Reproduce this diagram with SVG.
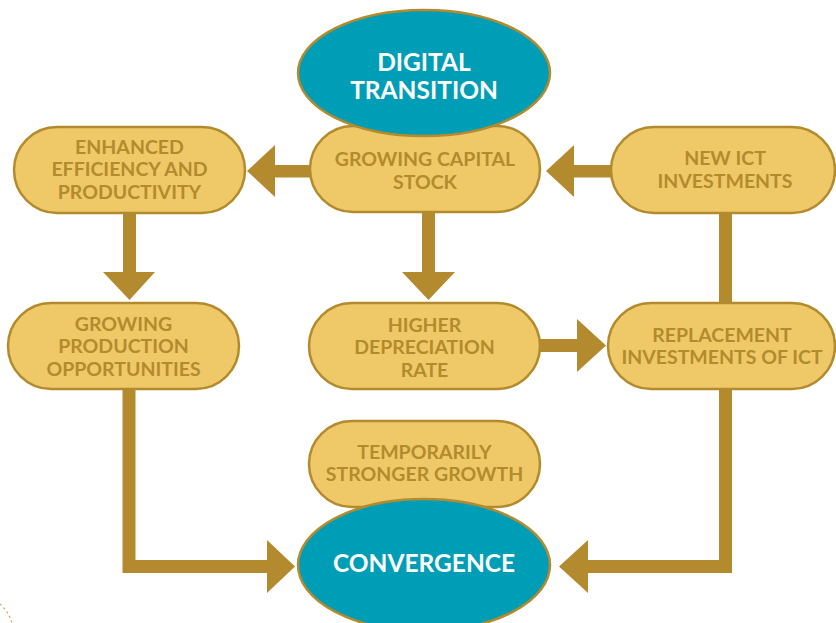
<svg xmlns="http://www.w3.org/2000/svg" width="836" height="623" viewBox="0 0 836 623">
<style>
.box{fill:#EFC967;stroke:#B38B2E;stroke-width:2.5}
.ell{fill:#009EB6;stroke:#B38B2E;stroke-width:2.5}
.bt{font-family:Lato,"Open Sans","Liberation Sans",sans-serif;font-weight:700;font-size:19.5px;fill:#B38B2E;text-anchor:middle}
.et{font-family:Lato,"Open Sans","Liberation Sans",sans-serif;font-weight:700;font-size:24.5px;fill:#FFFFFF;text-anchor:middle}
.ar{fill:#B38B2E}
.ln{fill:none;stroke:#B38B2E;stroke-width:13}
</style>
<rect width="836" height="623" fill="#FFFFFF"/>
<g id="connectors">
<rect class="ar" x="274" y="165" width="37" height="12.5"/>
<polygon class="ar" points="247,171 275,145 275,197"/>
<rect class="ar" x="573" y="165" width="39" height="12.5"/>
<polygon class="ar" points="546,171 574,145 574,197"/>
<rect class="ar" x="123" y="212" width="13" height="61"/>
<polygon class="ar" points="103,272 155,272 129.5,300"/>
<rect class="ar" x="422" y="211" width="13" height="62"/>
<polygon class="ar" points="402,272 455,272 428.5,300"/>
<rect class="ar" x="539" y="339" width="39" height="13"/>
<polygon class="ar" points="577,319 577,372 606,345.5"/>
<rect class="ar" x="719" y="212" width="13" height="92"/>
<polyline class="ln" points="129,388 129,566.5 268,566.5"/>
<polygon class="ar" points="267,540 267,593 295,566.5"/>
<polyline class="ln" points="725.5,388 725.5,566.5 587,566.5"/>
<polygon class="ar" points="588,540 588,593 559,566.5"/>
</g>
<g id="growing-capital-stock">
<rect class="box" x="310" y="126" width="230" height="86" rx="43"/>
<text class="bt" x="425" y="166">GROWING CAPITAL</text>
<text class="bt" x="425" y="188.5">STOCK</text>
</g>
<g id="digital-transition">
<ellipse class="ell" cx="424" cy="73" rx="126" ry="63"/>
<text class="et" x="424" y="71">DIGITAL</text>
<text class="et" x="424" y="99">TRANSITION</text>
</g>
<g id="enhanced-efficiency">
<rect class="box" x="14" y="127" width="231" height="86" rx="43"/>
<text class="bt" x="129.5" y="153.5">ENHANCED</text>
<text class="bt" x="129.5" y="176">EFFICIENCY AND</text>
<text class="bt" x="129.5" y="198.5">PRODUCTIVITY</text>
</g>
<g id="new-ict-investments">
<rect class="box" x="611" y="127" width="224" height="86" rx="43"/>
<text class="bt" x="725" y="164.5">NEW ICT</text>
<text class="bt" x="725" y="187.5">INVESTMENTS</text>
</g>
<g id="growing-production">
<rect class="box" x="8" y="303" width="231" height="86" rx="43"/>
<text class="bt" x="123.5" y="330.5">GROWING</text>
<text class="bt" x="123.5" y="353">PRODUCTION</text>
<text class="bt" x="123.5" y="375.5">OPPORTUNITIES</text>
</g>
<g id="higher-depreciation">
<rect class="box" x="309" y="303" width="231" height="86" rx="43"/>
<text class="bt" x="424.5" y="332">HIGHER</text>
<text class="bt" x="424.5" y="354">DEPRECIATION</text>
<text class="bt" x="424.5" y="376.5">RATE</text>
</g>
<g id="replacement-investments">
<rect class="box" x="608" y="303" width="227" height="86" rx="43"/>
<text class="bt" x="722" y="341.5">REPLACEMENT</text>
<text class="bt" x="722" y="364">INVESTMENTS OF ICT</text>
</g>
<g id="temporarily-stronger-growth">
<rect class="box" x="309" y="421" width="231" height="86" rx="43"/>
<text class="bt" x="424.5" y="458.5">TEMPORARILY</text>
<text class="bt" x="424.5" y="481">STRONGER GROWTH</text>
</g>
<g id="convergence">
<ellipse class="ell" cx="424" cy="565" rx="126" ry="66"/>
<text class="et" x="424" y="572">CONVERGENCE</text>
</g>
<path d="M0,604 A40,40 0 0 1 12,623" fill="none" stroke="#C9A24A" stroke-width="1.2" stroke-dasharray="2,3"/>
</svg>
